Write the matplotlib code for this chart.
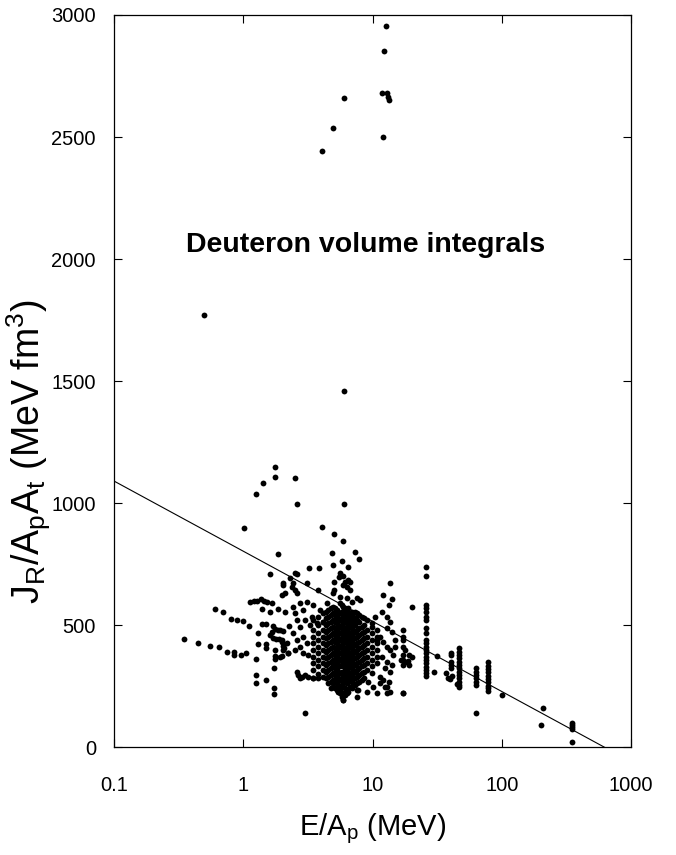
import matplotlib
matplotlib.use("Agg")
import matplotlib.pyplot as plt
import numpy as np

plt.rcParams['font.family'] = ['Liberation Sans', 'DejaVu Sans']
plt.rcParams['mathtext.fontset'] = 'custom'
plt.rcParams['mathtext.rm'] = 'Liberation Sans'

# outliers far above the cluster
e_high = [12.8, 12.3, 11.9, 13.0, 13.1, 13.4, 6.03, 4.98, 12.0, 4.04, 0.50, 6.04,
          1.76, 1.76, 2.52, 1.41, 1.26, 2.61, 6.04, 1.01, 4.06, 5.05, 5.93]
j_high = [2956, 2854, 2680, 2679, 2663, 2652, 2659, 2536, 2501, 2444, 1770, 1458,
          1148, 1105, 1103, 1082, 1035, 997, 995, 897, 903, 875, 846]

# low energy points (E/A < ~2.3 MeV)
e_low = [1.85, 1.61, 2.03,
         1.13, 1.21, 1.27, 1.36, 1.45, 1.54, 1.66,
         0.60, 0.70, 0.80, 0.90, 1.00, 1.10,
         1.40, 1.61, 1.85, 2.10,
         1.40, 1.49, 1.71, 1.75, 1.67, 1.30, 1.86, 2.02, 2.25,
         1.61, 1.69, 1.78, 1.88, 1.99, 2.02, 2.07,
         1.29, 1.50, 1.50, 1.75, 2.22, 2.00, 1.77, 1.77, 1.25, 1.74, 1.25, 1.25, 1.49, 1.74, 1.74,
         0.35, 0.45, 0.55, 0.65, 0.75, 0.85, 0.85, 0.955, 1.05]
j_low = [790, 708, 664,
         595, 597, 598, 605, 600, 596, 592,
         566, 552, 523, 519, 516, 495,
         566, 555, 566, 555,
         503, 505, 496, 482, 472, 466, 480, 474, 496,
         459, 448, 441, 444, 432, 414, 407,
         421, 422, 405, 398, 384, 372, 372, 362, 362, 325, 296, 261, 275, 241, 217,
         441, 425, 415, 410, 389, 389, 376, 376, 385]

# scattered points around the main cluster (2 - 20 MeV)
e_mid = [4.89, 7.33, 7.91, 5.83, 4.98, 6.43, 3.24, 3.88, 2.51, 2.62,
         5.61, 5.95, 5.53, 6.50, 6.70, 6.13, 5.88, 6.32, 6.70, 5.04, 5.04,
         2.30, 2.44, 2.37, 2.51, 2.59, 2.04, 1.98, 2.10, 3.10, 3.81,
         13.6, 12.0, 14.1, 13.3, 11.8, 12.9, 13.6, 12.9, 14.1, 10.4, 9.86, 10.8,
         4.98, 5.61, 6.32, 6.91, 7.55, 8.00, 3.10, 3.49, 3.92, 4.43, 2.75, 2.92,
         2.44, 2.51, 2.59, 2.75, 3.00, 3.39, 3.29, 3.70, 4.16,
         1.92, 1.98, 2.04, 1.92, 2.17, 2.23,
         2.44, 2.59, 2.75, 2.92, 3.10, 2.51, 2.92, 3.19,
         2.59, 2.67, 2.84, 3.00, 3.19, 3.49, 3.81, 2.75, 3.00,
         4.98, 5.28, 5.61, 5.78, 5.95, 6.32, 6.70, 7.55, 7.76, 9.02, 9.29, 10.1, 10.8,
         11.4, 12.9, 12.9, 13.6, 17.3,
         11.4, 12.1, 12.9, 13.6, 14.5, 11.8, 12.9, 14.1, 14.9, 14.9, 12.5, 13.6,
         17.3, 17.9, 16.7, 19.0, 19.0, 11.4, 12.1, 13.3, 12.5]
j_mid = [796, 798, 769, 764, 746, 736, 735, 732, 712, 708,
         712, 701, 695, 684, 677, 677, 664, 657, 643, 677, 643,
         691, 671, 657, 643, 630, 671, 623, 630, 671, 643,
         671, 623, 605, 582, 555, 534, 514, 486, 473, 532, 491, 439,
         630, 616, 609, 595, 609, 602, 595, 582, 561, 589, 589, 561,
         575, 548, 520, 493, 520, 534, 500, 507, 514,
         480, 439, 398, 370, 425, 384,
         466, 439, 411, 452, 425, 398, 384, 377,
         309, 295, 288, 295, 288, 281, 281, 281, 138,
         261, 241, 234, 206, 193, 220, 247, 206, 234, 227, 268, 247, 220,
         261, 247, 220, 227, 220,
         452, 432, 411, 398, 377, 370, 350, 336, 411, 439, 322, 309,
         439, 398, 357, 377, 336, 288, 275, 268, 247]

# dense core of the cluster (3.5 - 11 MeV)
e_core = [3.49] * 9 + [3.81] * 9 + [4.16] * 10 + [4.55] * 12 + [4.98] * 13 + [5.28] * 13 \
    + [5.61] * 14 + [5.95] * 15 + [6.32] * 13 + [6.70] * 12 + [7.11] * 11 + [7.55] * 12 \
    + [8.25] * 10 + [9.02] * 8 + [9.86] * 8 + [10.8] * 6
j_core = [520, 480, 452, 425, 398, 370, 343, 316, 281,
          534, 500, 466, 439, 411, 384, 357, 330, 300,
          548, 514, 480, 452, 425, 398, 370, 343, 316, 288,
          561, 534, 507, 480, 452, 425, 398, 370, 343, 316, 288, 261,
          575, 548, 520, 493, 466, 439, 411, 384, 357, 330, 302, 275, 247,
          561, 534, 507, 480, 452, 425, 398, 370, 343, 316, 288, 261, 234,
          589, 548, 520, 493, 466, 439, 411, 384, 357, 330, 302, 275, 247, 220,
          575, 548, 520, 493, 466, 439, 411, 384, 357, 330, 302, 275, 247, 220, 193,
          561, 534, 507, 480, 452, 425, 398, 370, 343, 316, 288, 261, 234,
          548, 520, 493, 466, 439, 411, 384, 357, 330, 302, 275, 247,
          534, 507, 480, 452, 425, 398, 370, 343, 316, 288, 261,
          548, 520, 480, 452, 425, 398, 370, 343, 316, 288, 261, 234,
          534, 493, 466, 439, 411, 384, 357, 330, 302, 275,
          520, 480, 452, 425, 398, 370, 343, 316,
          507, 466, 439, 411, 384, 357, 330, 302,
          480, 452, 425, 398, 370, 343]

# the same core, points lying between the columns above
e_core2 = [4.35] * 11 + [4.75] * 13 + [5.12] * 13 + [5.45] * 13 + [5.78] * 14 + [6.12] * 14 \
    + [6.5] * 13 + [6.9] * 12 + [7.32] * 12 + [7.85] * 11 + [8.6] * 10
j_core2 = [555, 527, 500, 473, 446, 418, 391, 363, 336, 309, 281,
           568, 541, 514, 486, 459, 432, 404, 377, 350, 322, 295, 268, 241,
           568, 541, 514, 486, 459, 432, 404, 377, 350, 322, 295, 268, 241,
           555, 527, 500, 473, 446, 418, 391, 363, 336, 309, 281, 254, 227,
           582, 555, 527, 500, 473, 446, 418, 391, 363, 336, 309, 281, 254, 213,
           568, 541, 514, 486, 459, 432, 404, 377, 350, 322, 295, 268, 241, 213,
           568, 541, 514, 486, 459, 432, 404, 377, 350, 322, 295, 268, 227,
           555, 527, 500, 473, 446, 418, 391, 363, 336, 309, 281, 241,
           555, 527, 500, 473, 446, 418, 391, 363, 336, 309, 281, 254,
           541, 514, 486, 459, 432, 404, 377, 350, 322, 295, 268,
           527, 500, 473, 446, 418, 391, 363, 336, 309, 281]

# higher energy columns (> 17 MeV)
e_hi = [25.9] * 21 + [20.1, 17.1, 17.1, 17.1, 17.1, 17.1, 17.1, 17.9, 18.7, 20.1, 17.1,
        31.4, 29.9] + [40.3] * 5 + [37.1, 38.6, 39.8, 41.0] + [47.0] * 13 + [45.3] \
    + [63.2] * 7 + [77.8] * 10 + [100.5, 210, 200] + [350] * 5
j_hi = [739, 702, 582, 568, 555, 532, 520, 486, 466, 439, 425, 411, 398, 384, 370, 357,
        343, 329, 316, 305, 292,
        574, 480, 452, 411, 377, 357, 336, 350, 354, 370, 220,
        374, 309,
        387, 377, 350, 336, 322,
        302, 284, 277, 291,
        404, 391, 377, 363, 350, 336, 322, 309, 295, 281, 268, 254, 247,
        258,
        322, 309, 295, 281, 268, 254, 138,
        347, 334, 320, 306, 293, 279, 265, 252, 241, 231,
        213, 159, 89,
        100, 90, 83, 75, 20]

# straight-line fit drawn on the figure: J = fit_a + fit_b * log10(E)
fit_a = 802.5
fit_b = -287.5

e_all = np.array(e_high + e_low + e_mid + e_core + e_core2 + e_hi)
j_all = np.array(j_high + j_low + j_mid + j_core + j_core2 + j_hi)

fig = plt.figure(figsize=(6.76, 8.55), dpi=100)
ax = fig.add_axes([114 / 676, 1 - 747 / 855, 517 / 676, 732 / 855])

ax.plot(e_all, j_all, ls='', marker='o', ms=4.2, mfc='black', mec='black', mew=0)

x_fit = np.array([0.1, 1000.0])
ax.plot(x_fit, fit_a + fit_b * np.log10(x_fit), color='black', lw=0.8)

ax.set_xscale('log')
ax.set_xlim(0.1, 1000)
ax.set_ylim(0, 3000)
ax.set_xticks([0.1, 1, 10, 100, 1000])
ax.set_xticklabels(['0.1', '1', '10', '100', '1000'])
ax.minorticks_off()
ax.set_yticks([0, 500, 1000, 1500, 2000, 2500, 3000])
ax.tick_params(direction='in', top=True, right=True, length=6, width=0.8, labelsize=14.5)
ax.tick_params(axis='x', pad=21)
ax.tick_params(axis='y', pad=13)
for s in ax.spines.values():
    s.set_linewidth(0.9)

ax.set_xlabel(r'E/A$_\mathregular{p}$ (MeV)', fontsize=21)
ax.xaxis.set_label_coords(0.5, -0.088)
ax.set_ylabel(r'J$_\mathregular{R}$/A$_\mathregular{p}$A$_\mathregular{t}$ (MeV fm$^\mathregular{3}$)', fontsize=27)
ax.yaxis.set_label_coords(-0.118, 0.403)

ax.text(0.487, 0.686, 'Deuteron volume integrals', transform=ax.transAxes,
        ha='center', va='center', fontsize=20.5, fontweight='bold')

fig.savefig('out.png', dpi=100)
